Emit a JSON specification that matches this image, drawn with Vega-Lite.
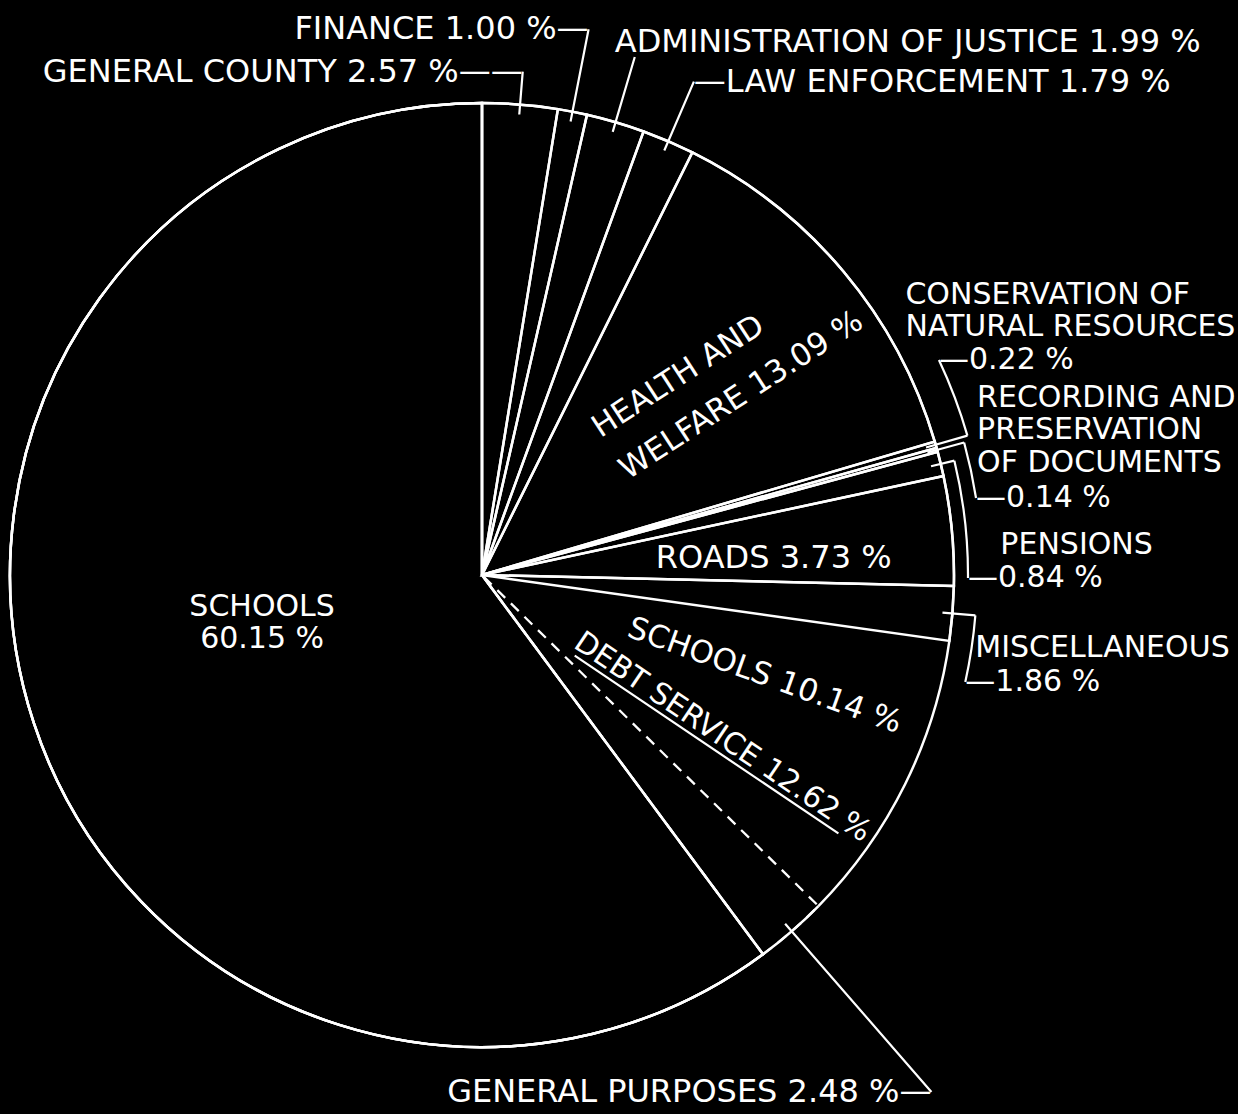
{
  "$schema": "https://vega.github.io/schema/vega-lite/v6.json",
  "width": 944,
  "height": 944,
  "autosize": {"type": "none"},
  "padding": {"left": 10, "top": 103, "right": 284, "bottom": 67},
  "background": "black",
  "config": {
    "view": {"stroke": null},
    "text": {"font": "DejaVu Sans", "fill": "white", "fontSize": 31}
  },
  "data": {
    "values": [
      {"idx": 1, "item": "General County", "pct": 2.57, "txt": "GENERAL COUNTY 2.57 %——"},
      {"idx": 2, "item": "Finance", "pct": 1.00, "txt": "FINANCE 1.00 %—"},
      {"idx": 3, "item": "Administration of Justice", "pct": 1.99, "txt": "ADMINISTRATION OF JUSTICE 1.99 %"},
      {"idx": 4, "item": "Law Enforcement", "pct": 1.79, "txt": "—LAW ENFORCEMENT 1.79 %"},
      {"idx": 5, "item": "Health and Welfare", "pct": 13.09, "txt": ["HEALTH AND", "WELFARE 13.09 %"]},
      {"idx": 6, "item": "Conservation of Natural Resources", "pct": 0.22, "txt": ["CONSERVATION OF", "NATURAL RESOURCES"], "pctTxt": "—0.22 %"},
      {"idx": 7, "item": "Recording and Preservation of Documents", "pct": 0.14, "txt": ["RECORDING AND", "PRESERVATION", "OF DOCUMENTS"], "pctTxt": "—0.14 %"},
      {"idx": 8, "item": "Pensions", "pct": 0.84, "txt": "PENSIONS", "pctTxt": "—0.84 %"},
      {"idx": 9, "item": "Roads", "pct": 3.73, "txt": "ROADS  3.73 %"},
      {"idx": 10, "item": "Miscellaneous", "pct": 1.86, "txt": "MISCELLANEOUS", "pctTxt": "—1.86 %"},
      {"idx": 11, "item": "Debt Service: Schools", "pct": 10.14, "txt": "SCHOOLS 10.14 %", "group": "DEBT SERVICE 12.62 %"},
      {"idx": 12, "item": "Debt Service: General Purposes", "pct": 2.48, "txt": "GENERAL PURPOSES 2.48 %—"},
      {"idx": 13, "item": "Schools", "pct": 60.15, "txt": ["SCHOOLS", "60.15 %"]}
    ]
  },
  "encoding": {
    "theta": {"field": "pct", "type": "quantitative", "stack": true},
    "order": {"field": "idx", "type": "quantitative"}
  },
  "layer": [
    {"mark": {"type": "arc", "outerRadius": 472, "fill": "black", "strokeWidth": 0}},
    {
      "mark": {"type": "arc", "outerRadius": 472, "fill": "black", "fillOpacity": 0, "stroke": "white", "strokeWidth": 2.5},
      "encoding": {"strokeOpacity": {"condition": {"test": "datum.idx === 11 || datum.idx === 12", "value": 0}, "value": 1}}
    },
    {
      "mark": {"type": "arc", "outerRadius": 472, "fill": "black", "fillOpacity": 0, "stroke": "white", "strokeWidth": 2.3, "strokeDash": [11, 8]},
      "encoding": {"strokeOpacity": {"condition": {"test": "datum.idx === 12", "value": 1}, "value": 0}}
    },
    {
      "mark": {"type": "arc", "outerRadius": 472, "fill": "black", "fillOpacity": 0, "stroke": "white", "strokeWidth": 2.5},
      "encoding": {"strokeOpacity": {"condition": {"test": "datum.idx === 13", "value": 1}, "value": 0}}
    },
    {"mark": {"type": "arc", "outerRadius": 472, "innerRadius": 472, "fill": "black", "fillOpacity": 0, "stroke": "white", "strokeWidth": 2.5}},
    {
      "mark": {"type": "arc", "innerRadius": 462, "outerRadius": 505, "padAngle": 3, "fill": "black", "fillOpacity": 0, "stroke": "white", "strokeWidth": 2.2},
      "encoding": {"strokeOpacity": {"condition": {"test": "datum.idx === 1 || datum.idx === 6", "value": 1}, "value": 0}}
    },
    {
      "mark": {"type": "arc", "innerRadius": 462, "outerRadius": 556, "padAngle": 3, "fill": "black", "fillOpacity": 0, "stroke": "white", "strokeWidth": 2.2},
      "encoding": {"strokeOpacity": {"condition": {"test": "datum.idx === 2", "value": 1}, "value": 0}}
    },
    {
      "mark": {"type": "arc", "innerRadius": 462, "outerRadius": 540, "padAngle": 3, "fill": "black", "fillOpacity": 0, "stroke": "white", "strokeWidth": 2.2},
      "encoding": {"strokeOpacity": {"condition": {"test": "datum.idx === 3", "value": 1}, "value": 0}}
    },
    {
      "mark": {"type": "arc", "innerRadius": 462, "outerRadius": 537, "padAngle": 3, "fill": "black", "fillOpacity": 0, "stroke": "white", "strokeWidth": 2.2},
      "encoding": {"strokeOpacity": {"condition": {"test": "datum.idx === 4", "value": 1}, "value": 0}}
    },
    {
      "mark": {"type": "arc", "innerRadius": 462, "outerRadius": 500, "padAngle": 3, "fill": "black", "fillOpacity": 0, "stroke": "white", "strokeWidth": 2.2},
      "encoding": {"strokeOpacity": {"condition": {"test": "datum.idx === 7", "value": 1}, "value": 0}}
    },
    {
      "mark": {"type": "arc", "innerRadius": 462, "outerRadius": 486, "padAngle": 3, "fill": "black", "fillOpacity": 0, "stroke": "white", "strokeWidth": 2.2},
      "encoding": {"strokeOpacity": {"condition": {"test": "datum.idx === 8", "value": 1}, "value": 0}}
    },
    {
      "mark": {"type": "arc", "innerRadius": 462, "outerRadius": 495, "padAngle": 3, "fill": "black", "fillOpacity": 0, "stroke": "white", "strokeWidth": 2.2},
      "encoding": {"strokeOpacity": {"condition": {"test": "datum.idx === 10", "value": 1}, "value": 0}}
    },
    {
      "mark": {"type": "arc", "innerRadius": 462, "outerRadius": 685, "padAngle": 3, "fill": "black", "fillOpacity": 0, "stroke": "white", "strokeWidth": 2.2},
      "encoding": {"strokeOpacity": {"condition": {"test": "datum.idx === 12", "value": 1}, "value": 0}}
    },
    {
      "transform": [{"stack": "pct", "groupby": [], "sort": [{"field": "idx", "order": "ascending"}], "as": ["p0", "p1"]}],
      "mark": {"type": "arc", "innerRadius": 505, "outerRadius": 505, "thetaOffset": -0.15331, "theta2Offset": -0.006912, "fill": "black", "fillOpacity": 0, "stroke": "white", "strokeWidth": 2.2},
      "encoding": {
        "theta": {"field": "p0", "type": "quantitative"},
        "theta2": {"field": "p1"},
        "strokeOpacity": {"condition": {"test": "datum.idx === 6", "value": 1}, "value": 0}
      }
    },
    {
      "transform": [{"stack": "pct", "groupby": [], "sort": [{"field": "idx", "order": "ascending"}], "as": ["p0", "p1"]}],
      "mark": {"type": "arc", "innerRadius": 500, "outerRadius": 500, "thetaOffset": 0.004398, "theta2Offset": 0.10927, "fill": "black", "fillOpacity": 0, "stroke": "white", "strokeWidth": 2.2},
      "encoding": {
        "theta": {"field": "p0", "type": "quantitative"},
        "theta2": {"field": "p1"},
        "strokeOpacity": {"condition": {"test": "datum.idx === 7", "value": 1}, "value": 0}
      }
    },
    {
      "transform": [{"stack": "pct", "groupby": [], "sort": [{"field": "idx", "order": "ascending"}], "as": ["p0", "p1"]}],
      "mark": {"type": "arc", "innerRadius": 486, "outerRadius": 486, "thetaOffset": 0.02639, "theta2Offset": 0.21729, "fill": "black", "fillOpacity": 0, "stroke": "white", "strokeWidth": 2.2},
      "encoding": {
        "theta": {"field": "p0", "type": "quantitative"},
        "theta2": {"field": "p1"},
        "strokeOpacity": {"condition": {"test": "datum.idx === 8", "value": 1}, "value": 0}
      }
    },
    {
      "transform": [{"stack": "pct", "groupby": [], "sort": [{"field": "idx", "order": "ascending"}], "as": ["p0", "p1"]}],
      "mark": {"type": "arc", "innerRadius": 495, "outerRadius": 495, "thetaOffset": 0.05843, "theta2Offset": 0.07777, "fill": "black", "fillOpacity": 0, "stroke": "white", "strokeWidth": 2.2},
      "encoding": {
        "theta": {"field": "p0", "type": "quantitative"},
        "theta2": {"field": "p1"},
        "strokeOpacity": {"condition": {"test": "datum.idx === 10", "value": 1}, "value": 0}
      }
    },
    {
      "mark": {"type": "arc", "innerRadius": 122, "outerRadius": 440, "padAngle": 3, "thetaOffset": 0.13474, "theta2Offset": 0.13474, "xOffset": -8.4, "yOffset": 12.4, "fill": "black", "fillOpacity": 0, "stroke": "white", "strokeWidth": 2.2},
      "encoding": {"strokeOpacity": {"condition": {"test": "datum.idx === 11", "value": 1}, "value": 0}}
    },
    {
      "mark": {"type": "text", "radius": 505, "align": "right", "baseline": "middle", "fontSize": 32},
      "encoding": {"text": {"condition": {"test": "datum.idx === 1", "field": "txt", "type": "nominal"}, "value": ""}}
    },
    {
      "mark": {"type": "text", "radius": 556, "align": "right", "baseline": "middle", "fontSize": 32},
      "encoding": {"text": {"condition": {"test": "datum.idx === 2", "field": "txt", "type": "nominal"}, "value": ""}}
    },
    {
      "mark": {"type": "text", "radius": 540, "dx": -20, "dy": -15, "align": "left", "baseline": "middle", "fontSize": 32},
      "encoding": {"text": {"condition": {"test": "datum.idx === 3", "field": "txt", "type": "nominal"}, "value": ""}}
    },
    {
      "mark": {"type": "text", "radius": 537, "align": "left", "baseline": "middle", "fontSize": 32},
      "encoding": {"text": {"condition": {"test": "datum.idx === 4", "field": "txt", "type": "nominal"}, "value": ""}}
    },
    {
      "mark": {"type": "text", "radius": 181, "thetaOffset": -0.1590, "angle": -33, "align": "left", "baseline": "alphabetic", "lineHeight": 50, "fontSize": 31},
      "encoding": {"text": {"condition": {"test": "datum.idx === 5", "field": "txt", "type": "nominal"}, "value": ""}}
    },
    {
      "mark": {"type": "text", "radius": 293, "dy": 10, "align": "center", "baseline": "middle", "fontSize": 32},
      "encoding": {"text": {"condition": {"test": "datum.idx === 9", "field": "txt", "type": "nominal"}, "value": ""}}
    },
    {
      "mark": {"type": "text", "radius": 300, "thetaOffset": -0.11484, "angle": 19.7, "align": "center", "baseline": "middle", "fontSize": 31},
      "encoding": {"text": {"condition": {"test": "datum.idx === 11", "field": "txt", "type": "nominal"}, "value": ""}}
    },
    {
      "mark": {"type": "text", "radius": 290, "thetaOffset": 0.13474, "angle": 34, "align": "center", "baseline": "middle", "fontSize": 30},
      "encoding": {"text": {"condition": {"test": "datum.idx === 11", "field": "group", "type": "nominal"}, "value": ""}}
    },
    {
      "mark": {"type": "text", "radius": 685, "align": "right", "baseline": "middle", "fontSize": 32},
      "encoding": {"text": {"condition": {"test": "datum.idx === 12", "field": "txt", "type": "nominal"}, "value": ""}}
    },
    {
      "mark": {"type": "text", "radius": 240, "dx": 8, "dy": -34, "align": "center", "baseline": "alphabetic", "lineHeight": 32, "fontSize": 30},
      "encoding": {"text": {"condition": {"test": "datum.idx === 13", "field": "txt", "type": "nominal"}, "value": ""}}
    },
    {
      "mark": {"type": "text", "radius": 505, "dx": -62, "dy": -132, "align": "left", "baseline": "alphabetic", "lineHeight": 32.5, "fontSize": 30},
      "encoding": {"text": {"condition": {"test": "datum.idx === 6", "field": "txt", "type": "nominal"}, "value": ""}}
    },
    {
      "mark": {"type": "text", "radius": 500, "dx": 13, "dy": -35.5, "align": "left", "baseline": "alphabetic", "lineHeight": 32.5, "fontSize": 30},
      "encoding": {"text": {"condition": {"test": "datum.idx === 7", "field": "txt", "type": "nominal"}, "value": ""}}
    },
    {
      "mark": {"type": "text", "radius": 486, "dx": 46, "dy": 93, "align": "left", "baseline": "alphabetic", "fontSize": 30},
      "encoding": {"text": {"condition": {"test": "datum.idx === 8", "field": "txt", "type": "nominal"}, "value": ""}}
    },
    {
      "mark": {"type": "text", "radius": 495, "dx": 0, "dy": 42, "align": "left", "baseline": "alphabetic", "fontSize": 30},
      "encoding": {"text": {"condition": {"test": "datum.idx === 10", "field": "txt", "type": "nominal"}, "value": ""}}
    },
    {
      "mark": {"type": "text", "radius": 505, "thetaOffset": -0.16022, "align": "left", "baseline": "middle", "fontSize": 30},
      "encoding": {"text": {"condition": {"test": "datum.idx === 6", "field": "pctTxt", "type": "nominal"}, "value": ""}}
    },
    {
      "mark": {"type": "text", "radius": 500, "thetaOffset": 0.11367, "align": "left", "baseline": "middle", "fontSize": 30},
      "encoding": {"text": {"condition": {"test": "datum.idx === 7", "field": "pctTxt", "type": "nominal"}, "value": ""}}
    },
    {
      "mark": {"type": "text", "radius": 486, "thetaOffset": 0.24368, "align": "left", "baseline": "middle", "fontSize": 30},
      "encoding": {"text": {"condition": {"test": "datum.idx === 8", "field": "pctTxt", "type": "nominal"}, "value": ""}}
    },
    {
      "mark": {"type": "text", "radius": 495, "thetaOffset": 0.13621, "align": "left", "baseline": "middle", "fontSize": 30},
      "encoding": {"text": {"condition": {"test": "datum.idx === 10", "field": "pctTxt", "type": "nominal"}, "value": ""}}
    }
  ]
}
